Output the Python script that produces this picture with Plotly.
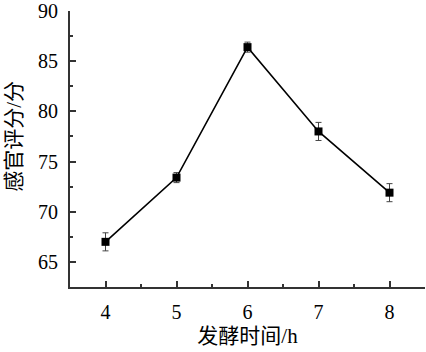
import plotly.graph_objects as go

hours = [4, 5, 6, 7, 8]
scores = [67.0, 73.4, 86.4, 78.0, 71.9]
errors = [0.9, 0.5, 0.5, 0.9, 0.9]
x_title = "发酵时间/h"
y_title = "感官评分/分"

font_fam = "Liberation Serif, Noto Sans CJK SC, serif"

fig = go.Figure()
fig.add_trace(go.Scatter(
    x=hours, y=scores, mode="lines+markers",
    line=dict(color="black", width=1.6),
    marker=dict(symbol="square", size=8, color="black"),
    error_y=dict(type="data", array=errors, visible=True, color="#444444", thickness=1, width=3),
    showlegend=False,
))
fig.update_layout(
    width=426, height=352,
    margin=dict(l=70, r=1, t=11, b=65),
    paper_bgcolor="white", plot_bgcolor="white",
    font=dict(family=font_fam, size=20, color="black"),
)
fig.add_annotation(
    text=y_title, textangle=-90, xref="paper", yref="paper",
    x=-0.16, y=0.545, xanchor="center", yanchor="middle", showarrow=False,
    font=dict(size=21, family=font_fam),
)
fig.update_xaxes(
    range=[3.5, 8.5], tickvals=hours, ticks="inside", ticklen=6, tickwidth=1.5,
    tickcolor="#333", showline=True, linecolor="#333", linewidth=2, showgrid=False, zeroline=False,
    ticklabelstandoff=6,
    minor=dict(ticks="inside", ticklen=3, tickwidth=1.5, tickcolor="#333", dtick=0.5, tick0=3.5, showgrid=False),
    title=dict(text=x_title, font=dict(size=21, family=font_fam), standoff=6),
)
fig.update_yaxes(
    range=[62.5, 90], tickvals=[65, 70, 75, 80, 85, 90], ticks="inside", ticklen=6, tickwidth=1.5,
    tickcolor="#333", showline=True, linecolor="#333", linewidth=2, showgrid=False, zeroline=False,
    ticklabelstandoff=6,
    minor=dict(ticks="inside", ticklen=3, tickwidth=1.5, tickcolor="#333", dtick=2.5, tick0=62.5, showgrid=False),
)
fig.write_html("out.html")
